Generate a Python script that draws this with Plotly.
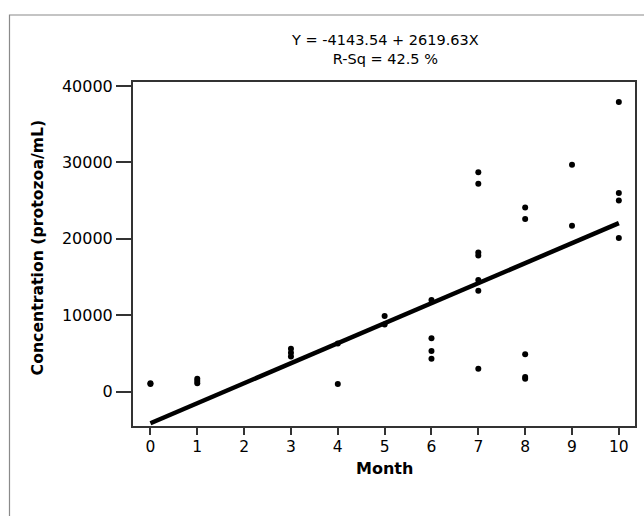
import plotly.graph_objects as go

# Observed data (month, concentration)
month_pts = [0, 0, 1, 1, 1, 3, 3, 3, 4, 4, 5, 5, 6, 6, 6, 6,
             7, 7, 7, 7, 7, 7, 7, 8, 8, 8, 8, 8, 9, 9, 10, 10, 10, 10]
conc_pts = [1000, 1100, 1700, 1400, 1100, 5600, 5100, 4600, 6300, 1000, 9900, 8800,
            12000, 7000, 5300, 4300,
            28700, 27200, 18200, 17800, 14600, 13200, 3000,
            24100, 22600, 4900, 1900, 1700,
            29700, 21700,
            37900, 26000, 25000, 20100]

intercept = -4143.54
slope = 2619.63
fit_x = [0, 10]
fit_y = [intercept + slope * v for v in fit_x]

x_ticks = [0, 1, 2, 3, 4, 5, 6, 7, 8, 9, 10]
y_ticks = [0, 10000, 20000, 30000, 40000]

FONT = "DejaVu Sans"

fig = go.Figure()
fig.add_trace(go.Scatter(x=fit_x, y=fit_y, mode="lines",
                         line=dict(color="black", width=4.5), hoverinfo="skip"))
fig.add_trace(go.Scatter(x=month_pts, y=conc_pts, mode="markers",
                         marker=dict(color="black", size=6, symbol="circle")))

L, R, T, B = 133, 7, 82, 90
W, H = 644, 516
pw, ph = W - L - R, H - T - B

def px_x(p):
    return (p - L) / pw

def px_y(p):
    return (H - B - p) / ph

fig.update_layout(
    width=W, height=H,
    margin=dict(l=L, r=R, t=T, b=B),
    paper_bgcolor="white", plot_bgcolor="white",
    showlegend=False,
    font=dict(family=FONT, color="black", size=14),
    shapes=[dict(type="rect", xref="paper", yref="paper",
                 x0=px_x(9), y0=px_y(560), x1=px_x(700), y1=px_y(15),
                 line=dict(color="#8a8a8a", width=1.2), layer="below")],
    annotations=[
        dict(text="Y = -4143.54 + 2619.63X<br>R-Sq = 42.5 %",
             xref="paper", yref="paper", x=px_x(386), y=px_y(49),
             xanchor="center", yanchor="middle", showarrow=False,
             font=dict(family=FONT, size=14.5, color="black")),
        dict(text="<b>Month</b>", xref="paper", yref="paper",
             x=px_x(385), y=px_y(468), xanchor="center", yanchor="middle",
             showarrow=False, font=dict(family=FONT, size=16, color="black")),
        dict(text="<b>Concentration (protozoa/mL)</b>", xref="paper", yref="paper",
             x=px_x(37), y=px_y(247), xanchor="center", yanchor="middle", textangle=-90,
             showarrow=False, font=dict(family=FONT, size=15.7, color="black")),
    ],
)
fig.update_xaxes(range=[-0.372, 10.345], tickvals=x_ticks, ticktext=[str(v) for v in x_ticks],
                 showgrid=False, zeroline=False, showline=True, linecolor="#333333", linewidth=2,
                 mirror=True, ticks="outside", ticklen=7, tickwidth=1.5, tickcolor="#333333",
                 ticklabelstandoff=-2,
                 tickfont=dict(family=FONT, size=15.5))
fig.update_yaxes(range=[-4500, 40523], tickvals=y_ticks, ticktext=[str(v) for v in y_ticks],
                 showgrid=False, zeroline=False, showline=True, linecolor="#333333", linewidth=2,
                 mirror=True, ticks="outside", ticklen=15, tickwidth=1.5, tickcolor="#333333",
                 tickfont=dict(family=FONT, size=16))

fig.write_html("out.html", config={"displayModeBar": False},
               post_script="document.body.style.margin='0';document.body.style.padding='0';")
